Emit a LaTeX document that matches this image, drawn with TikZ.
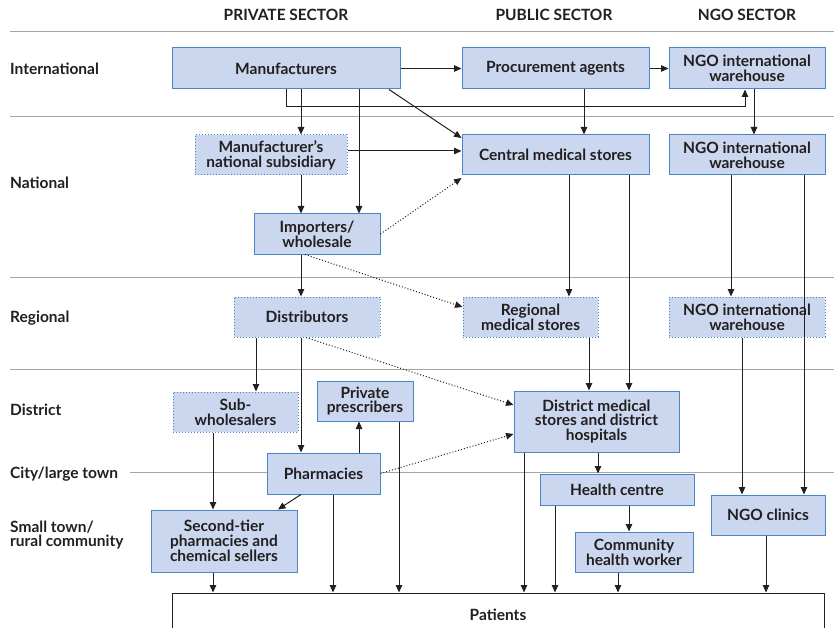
\documentclass[tikz,border=0pt]{standalone}
\usepackage{fontspec}
\setmainfont{Lato}
\usepackage{xcolor}
\usetikzlibrary{arrows.meta,positioning,calc}
\definecolor{boxfill}{HTML}{CBD7EF}
\definecolor{boxline}{HTML}{4A86C7}
\definecolor{ink}{HTML}{231F20}
\definecolor{rulegray}{HTML}{A5A5A5}
\tikzset{
  unit/.style={draw=boxline, fill=boxfill, line width=1pt, align=center, inner sep=0pt, text=ink,
    font=\bfseries\fontsize{15.5}{14.8}\selectfont},
  informal/.style={unit, dotted},
  arr/.style={draw=ink, line width=1pt, -{Triangle[length=7.5pt,width=6.5pt]}},
  dotarr/.style={arr, dotted},
  tier/.style={draw=rulegray, line width=0.9pt},
  level/.style={anchor=west, align=left, text=ink, inner sep=0pt, font=\bfseries\fontsize{15.5}{14.8}\selectfont},
  sector/.style={text=ink, font=\bfseries\fontsize{15.5}{14.8}\selectfont}
}
\begin{document}
\begin{tikzpicture}[x=1pt, y=-1pt]
    \clip (0,0) rectangle (834,628);
    \fill[white] (0,0) rectangle (834,628);

    % Sector headings
    \node[sector] (hpriv) at (286,15) {PRIVATE SECTOR};
    \node[sector] (hpub) at (554,15) {PUBLIC SECTOR};
    \node[sector] (hngo) at (747,15) {NGO SECTOR};

    % Tier rules and labels
    \draw[tier] (10,31) -- (834,31);
    \draw[tier] (10,116) -- (834,116);
    \draw[tier] (10,277) -- (834,277);
    \draw[tier] (10,369) -- (834,369);
    \draw[tier] (130,472) -- (834,472);
    \node[level] (lint) at (10,69) {International};
    \node[level] (lnat) at (10,183) {National};
    \node[level] (lreg) at (10,318) {Regional};
    \node[level] (ldis) at (10,410) {District};
    \node[level] (lcity) at (10,474) {City/large town};
    \node[level] (lsmall) at (10,535) {Small town/\\rural community};

    % International
    \node[unit, minimum width=228pt, minimum height=41pt] (manu) at (286,68.5) {Manufacturers};
    \node[unit, minimum width=187pt, minimum height=41pt] (proc) at (555.5,68.5) {Procurement agents};
    \node[unit, minimum width=156pt, minimum height=41pt] (ngoA) at (747,68.5) {NGO international\\warehouse};

    % National
    \node[informal, minimum width=152pt, minimum height=40pt] (subs) at (271,155) {Manufacturer's\\national subsidiary};
    \node[unit, minimum width=187pt, minimum height=40pt] (cms) at (555.5,155) {Central medical stores};
    \node[unit, minimum width=156pt, minimum height=40pt] (ngoB) at (747,155) {NGO international\\warehouse};
    \node[unit, minimum width=126pt, minimum height=40pt] (imp) at (317,234) {Importers/\\wholesale};

    % Regional
    \node[informal, minimum width=146pt, minimum height=40pt] (dist) at (307,317) {Distributors};
    \node[informal, minimum width=135pt, minimum height=40pt] (rms) at (530.5,317) {Regional\\medical stores};
    \node[informal, minimum width=156pt, minimum height=40pt] (ngoC) at (747,317) {NGO international\\warehouse};

    % District and below
    \node[informal, minimum width=125pt, minimum height=40pt] (subw) at (235.5,412) {Sub-\\wholesalers};
    \node[unit, minimum width=96pt, minimum height=40pt] (presc) at (365,401) {Private\\prescribers};
    \node[unit, minimum width=165pt, minimum height=61pt] (dms) at (596.5,421.5) {District medical\\stores and district\\hospitals};
    \node[unit, minimum width=113pt, minimum height=41pt] (pharm) at (323.5,473.5) {Pharmacies};
    \node[unit, minimum width=154pt, minimum height=31pt] (hc) at (617,489.5) {Health centre};
    \node[unit, minimum width=114pt, minimum height=40pt] (ngoclin) at (768,515) {NGO clinics};
    \node[unit, minimum width=146pt, minimum height=62pt] (sec) at (224,541) {Second-tier\\pharmacies and\\chemical sellers};
    \node[unit, minimum width=118pt, minimum height=40pt] (chw) at (634,552) {Community\\health worker};
    \node[draw=ink, line width=1pt, fill=white, text=ink, inner sep=0pt,
      font=\bfseries\fontsize{15.5}{14.8}\selectfont,
      minimum width=652pt, minimum height=44pt] (pat) at (498,615) {Patients};

    % Flows from manufacturers
    \draw[arr] (manu.east) -- (proc.west);
    \draw[arr] (proc.east) -- (ngoA.west);
    \draw[arr] (manu.south -| 286,0) -- ++(0,17) -| (ngoA.south -| 745,0);
    \draw[arr] (manu.south -| 301,0) -- (subs.north -| 301,0);
    \draw[arr] (manu.south -| 359,0) -- (imp.north -| 359,0);
    \draw[arr] (manu.south -| 389,0) -- (cms.west |- 0,138);
    \draw[arr] (subs.east |- 0,151) -- (cms.west |- 0,151);
    \draw[arr] (subs.south -| 301,0) -- (imp.north -| 301,0);
    \draw[dotarr] (imp.east) -- (cms.west |- 0,178);
    \draw[arr] (proc.south -| 584,0) -- (cms.north -| 584,0);
    \draw[arr] (ngoA.south -| 754,0) -- (ngoB.north -| 754,0);

    % National to regional and district
    \draw[arr] (cms.south -| 569,0) -- (rms.north -| 569,0);
    \draw[arr] (cms.south -| 629,0) -- (dms.north -| 629,0);
    \draw[arr] (ngoB.south -| 731,0) -- (ngoC.north -| 731,0);
    \draw[arr] (ngoB.south -| 804,0) -- (ngoclin.north -| 804,0);
    \draw[arr] (imp.south -| 301,0) -- (dist.north -| 301,0);
    \draw[dotarr] (imp.south -| 305,0) -- (rms.west |- 0,307);
    \draw[arr] (dist.south -| 256,0) -- (subw.north -| 256,0);
    \draw[arr] (dist.south -| 301,0) -- (pharm.north -| 301,0);
    \draw[dotarr] (dist.south -| 306,0) -- (dms.west |- 0,405);
    \draw[arr] (rms.south -| 589,0) -- (dms.north -| 589,0);
    \draw[arr] (ngoC.south -| 742,0) -- (ngoclin.north -| 742,0);

    % Local level
    \draw[arr] (subw.south -| 213,0) -- (sec.north -| 213,0);
    \draw[arr] (pharm.north -| 359,0) -- (presc.south -| 359,0);
    \draw[dotarr] (pharm.east) -- (dms.west |- 0,434);
    \draw[arr] (pharm.south -| 301,0) -- (sec.north -| 278,0);
    \draw[arr] (dms.south -| 598,0) -- (hc.north -| 598,0);
    \draw[arr] (hc.south -| 629,0) -- (chw.north -| 629,0);

    % To patients
    \draw[arr] (sec.south -| 213,0) -- (pat.north -| 213,0);
    \draw[arr] (pharm.south -| 333,0) -- (pat.north -| 333,0);
    \draw[arr] (presc.south -| 399,0) -- (pat.north -| 399,0);
    \draw[arr] (dms.south -| 524,0) -- (pat.north -| 524,0);
    \draw[arr] (hc.south -| 555,0) -- (pat.north -| 555,0);
    \draw[arr] (chw.south -| 618,0) -- (pat.north -| 618,0);
    \draw[arr] (ngoclin.south -| 766,0) -- (pat.north -| 766,0);
\end{tikzpicture}
\end{document}
